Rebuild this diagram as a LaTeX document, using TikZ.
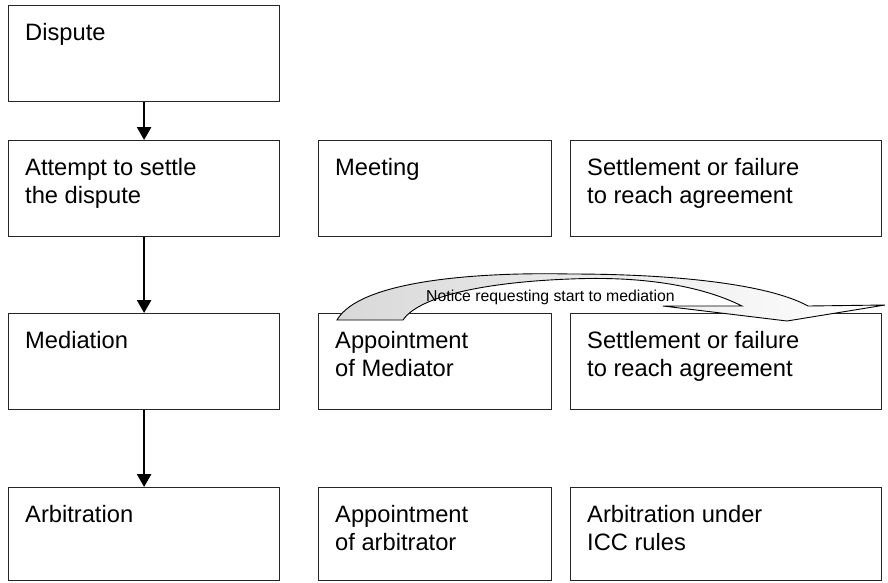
\documentclass[tikz,border=0pt]{standalone}
\usepackage{fontspec}
\setmainfont{Liberation Sans}
\usetikzlibrary{arrows.meta}
\begin{document}
\begin{tikzpicture}[x=1pt,y=-1pt,
  box/.style={draw=black!85, line width=1.2pt, fill=white, inner sep=0pt, anchor=north west},
  txt/.style={anchor=north west, inner sep=0pt, align=left, font=\fontsize{23.7pt}{28pt}\selectfont},
  flow/.style={line width=2.6pt, -{Triangle[width=14pt,length=13pt]}},
  bigarrow/.style={draw=black, line width=0.9pt, left color=gray!30, right color=white},
  note/.style={inner sep=0pt, anchor=base west, font=\fontsize{15.8pt}{18pt}\selectfont}]
\useasboundingbox (0,0) rectangle (888,582);
% column 1
\node[box, minimum width=271pt, minimum height=96pt] (dispute) at (8,5) {};
\node[box, minimum width=271pt, minimum height=96pt] (attempt) at (8,140) {};
\node[box, minimum width=271pt, minimum height=96pt] (mediation) at (8,313) {};
\node[box, minimum width=271pt, minimum height=93pt] (arbitration) at (8,487) {};
% column 2
\node[box, minimum width=233pt, minimum height=96pt] (meeting) at (318,140) {};
\node[box, minimum width=233pt, minimum height=96pt] (appmed) at (318,313) {};
\node[box, minimum width=233pt, minimum height=93pt] (apparb) at (318,487) {};
% column 3
\node[box, minimum width=311pt, minimum height=96pt] (settle1) at (570,140) {};
\node[box, minimum width=311pt, minimum height=96pt] (settle2) at (570,313) {};
\node[box, minimum width=311pt, minimum height=93pt] (icc) at (570,487) {};
% texts
\node[txt] (t1) at ([shift={(17,18.5)}]dispute.north west) {Dispute};
\node[txt] (t2) at ([shift={(17,18.5)}]attempt.north west) {Attempt to settle\\the dispute};
\node[txt] (t3) at ([shift={(17,18.5)}]mediation.north west) {Mediation};
\node[txt] (t4) at ([shift={(17,18.5)}]arbitration.north west) {Arbitration};
\node[txt] (t5) at ([shift={(17,18.5)}]meeting.north west) {Meeting};
\node[txt] (t6) at ([shift={(17,18.5)}]appmed.north west) {Appointment\\of Mediator};
\node[txt] (t7) at ([shift={(17,18.5)}]apparb.north west) {Appointment\\of arbitrator};
\node[txt] (t8) at ([shift={(17,18.5)}]settle1.north west) {Settlement or failure\\to reach agreement};
\node[txt] (t9) at ([shift={(17,18.5)}]settle2.north west) {Settlement or failure\\to reach agreement};
\node[txt] (t10) at ([shift={(17,18.5)}]icc.north west) {Arbitration under\\ICC rules};
% flow arrows
\draw[flow] (dispute.south) -- (attempt.north);
\draw[flow] (attempt.south) -- (mediation.north);
\draw[flow] (mediation.south) -- (arbitration.north);
% curved block arrow
\path[bigarrow] (337,320) .. controls (360,280) and (480,272) .. (570,274)
  .. controls (680,274) and (770,285) .. (808,306)
  -- (885,305) -- (787,321) -- (663,306) -- (742,306)
  .. controls (700,285) and (640,276) .. (570,279)
  .. controls (490,282) and (420,295) .. (403,320) -- cycle;
\node[note] (notice) at (426,301) {Notice requesting start to mediation};
\end{tikzpicture}
\end{document}
